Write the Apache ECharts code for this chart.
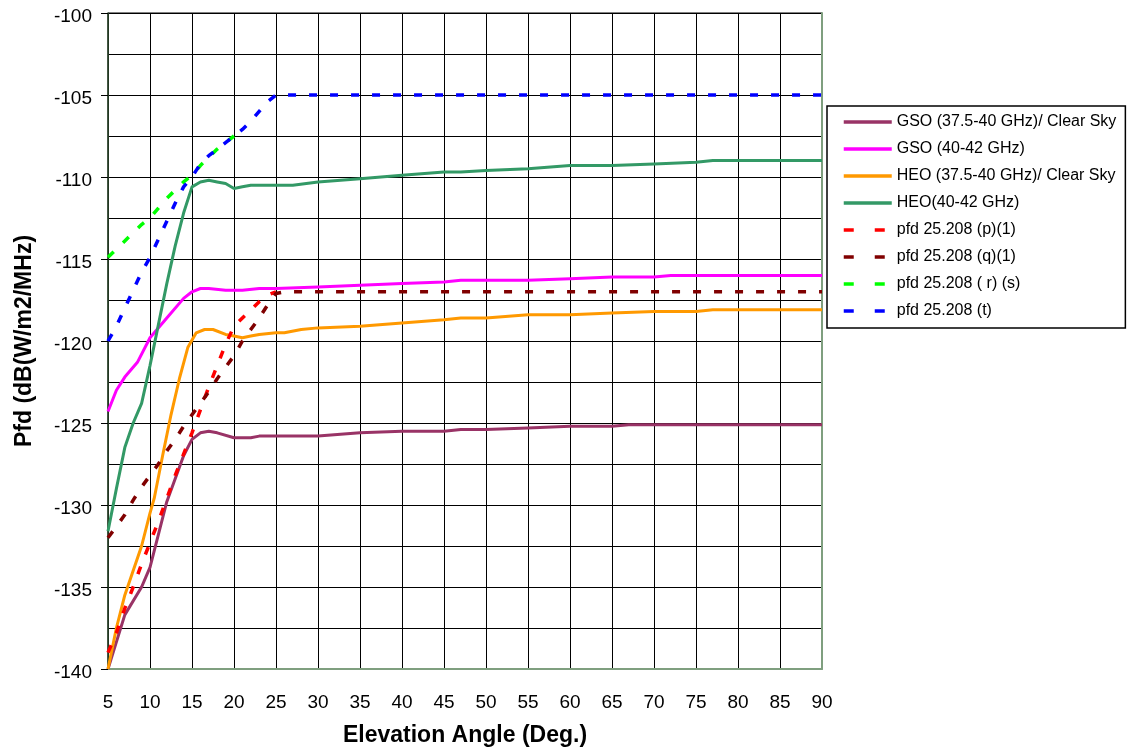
<!DOCTYPE html>
<html>
<head>
<meta charset="utf-8">
<script src="https://cdn.jsdelivr.net/npm/echarts@6/dist/echarts.min.js"></script>
<style>
html,body{margin:0;padding:0;background:#fff;}
#chart{width:1130px;height:752px;}
</style>
</head>
<body>
<div id="chart"></div>
<script>
// ---- Data (elevation angle in deg, pfd in dB(W/m2/MHz)) ----
var xTicks = [5,10,15,20,25,30,35,40,45,50,55,60,65,70,75,80,85,90];
var yTicks = [-100,-105,-110,-115,-120,-125,-130,-135,-140];

var seriesNames = [
  'GSO (37.5-40 GHz)/ Clear Sky',
  'GSO (40-42 GHz)',
  'HEO (37.5-40 GHz)/ Clear Sky',
  'HEO(40-42 GHz)',
  'pfd 25.208 (p)(1)',
  'pfd 25.208 (q)(1)',
  'pfd 25.208 ( r) (s)',
  'pfd 25.208 (t)'
];

var gso3740 = [[5,-140],[7,-136.7],[9,-135],[10,-133.8],[12,-129.8],[13,-128.4],[14,-127],[15,-126],[16,-125.6],[17,-125.5],[18,-125.6],[20,-125.9],[22,-125.9],[23,-125.8],[25,-125.8],[30,-125.8],[35,-125.6],[40,-125.5],[45,-125.5],[47,-125.4],[50,-125.4],[55,-125.3],[60,-125.2],[65,-125.2],[67,-125.1],[90,-125.1]];
var gso4042 = [[5,-124.3],[6,-123],[7,-122.2],[8.5,-121.3],[10,-119.8],[12,-118.6],[14,-117.4],[15,-117],[16,-116.8],[17,-116.8],[19,-116.9],[21,-116.9],[23,-116.8],[25,-116.8],[30,-116.7],[35,-116.6],[40,-116.5],[45,-116.4],[47,-116.3],[50,-116.3],[55,-116.3],[60,-116.2],[65,-116.1],[70,-116.1],[72,-116.0],[90,-116.0]];
var heo3740 = [[5,-140],[6,-137.5],[7,-135.5],[9,-132.5],[10,-130.5],[10.5,-129.6],[11.5,-127],[12.5,-124.5],[13.5,-122.3],[14.5,-120.4],[15.5,-119.5],[16.5,-119.3],[17.5,-119.3],[19,-119.6],[20,-119.7],[21,-119.8],[22,-119.7],[23,-119.6],[25,-119.5],[26,-119.5],[28,-119.3],[30,-119.2],[35,-119.1],[40,-118.9],[45,-118.7],[47,-118.6],[50,-118.6],[55,-118.4],[60,-118.4],[65,-118.3],[70,-118.2],[75,-118.2],[77,-118.1],[90,-118.1]];
var heo4042 = [[5,-131.6],[6,-129],[7,-126.5],[8,-125],[9,-123.8],[10,-121.5],[11,-119],[12,-116.5],[13,-114.2],[14,-112.2],[15,-110.6],[16,-110.3],[17,-110.2],[18,-110.3],[19,-110.4],[20,-110.7],[21,-110.6],[22,-110.5],[25,-110.5],[27,-110.5],[30,-110.3],[35,-110.1],[40,-109.9],[45,-109.7],[47,-109.7],[50,-109.6],[55,-109.5],[60,-109.3],[65,-109.3],[70,-109.2],[75,-109.1],[77,-109.0],[90,-109.0]];
var pfdP = [[5,-139],[6,-137.8],[7,-136.3],[8,-135],[9,-133.6],[10,-132.3],[11,-131],[12,-129.6],[13,-128.2],[14,-126.9],[15,-125.6],[16,-124.2],[17,-122.8],[18,-121.5],[19,-120.2],[20,-119.1],[21,-118.6],[22,-118.1],[23,-117.6],[24,-117.2],[25,-117]];
var pfdQ = [[5,-132],[6,-131.3],[7,-130.6],[8,-129.7],[9,-128.9],[10,-128.2],[11,-127.5],[12,-126.7],[13,-126],[14,-125.2],[15,-124.5],[16,-123.8],[17,-123.1],[18,-122.3],[19,-121.6],[20,-120.9],[21,-120.0],[22,-119.3],[23,-118.6],[24,-117.8],[25,-117.1],[26,-117],[90,-117]];
var pfdRS = [[5,-114.9],[6,-114.4],[7,-113.9],[8,-113.4],[9,-112.9],[10,-112.5],[11,-111.9],[12,-111.3],[13,-110.8],[14,-110.3],[15,-109.9],[16,-109.3],[17,-108.8],[18,-108.3],[19,-107.9],[20,-107.5]];
var pfdT = [[5,-120],[6,-119.1],[7,-118],[8,-116.9],[9,-115.8],[10,-114.9],[11,-113.8],[12,-112.7],[13,-111.6],[14,-110.6],[15,-110],[16,-109.2],[17,-108.7],[18,-108.3],[19,-107.9],[20,-107.5],[21,-107.1],[22,-106.6],[23,-106],[24,-105.4],[25,-105],[90,-105]];

var seriesData = [gso3740, gso4042, heo3740, heo4042, pfdP, pfdQ, pfdRS, pfdT];
var colors = ['#993366','#FF00FF','#FF9900','#339966','#FF0000','#800000','#00FF00','#0000FF'];
var dashed = [false,false,false,false,true,true,true,true];

var FONT = '"Liberation Sans", Arial, sans-serif';
var chart = echarts.init(document.getElementById('chart'), null, {renderer:'canvas'});

var series = seriesData.map(function(d,i){
  return {
    name: seriesNames[i],
    type: 'line',
    data: d,
    symbol: 'none',
    showSymbol: false,
    smooth: false,
    animation: false,
    z: 2 + i,
    lineStyle: {
      color: colors[i],
      width: dashed[i] ? 3.5 : 3,
      type: dashed[i] ? [8,13] : 'solid',
      cap: 'butt'
    },
    itemStyle: {color: colors[i]}
  };
});

var legendData = seriesNames.map(function(n,i){
  var item = {name: n};
  if (dashed[i]) item.lineStyle = {type: [10,21], width: 3.5};
  return item;
});

var option = {
  backgroundColor: '#fff',
  animation: false,
  textStyle: {fontFamily: FONT},
  grid: {
    left: 108, top: 13, right: 308, bottom: 82,
    show: true, borderColor: '#000', borderWidth: 1, backgroundColor: 'transparent'
  },
  legend: {
    orient: 'vertical',
    left: 827, top: 106,
    padding: [8, 9, 9, 15],
    itemWidth: 48, itemHeight: 14, itemGap: 11,
    borderColor: '#000', borderWidth: 1.5,
    backgroundColor: '#fff',
    itemStyle: {opacity: 0, borderWidth: 0},
    lineStyle: {width: 3.5},
    textStyle: {fontFamily: FONT, fontSize: 16, color: '#000'},
    data: legendData
  },
  xAxis: {
    type: 'value', min: 5, max: 90, interval: 5,
    name: 'Elevation Angle (Deg.)',
    nameLocation: 'middle', nameGap: 55,
    nameTextStyle: {fontFamily: FONT, fontSize: 23, fontWeight: 'bold', color: '#000'},
    axisLine: {show: true, onZero: false, lineStyle: {color: '#7f9f7f', width: 2}},
    axisTick: {show: false},
    axisLabel: {fontFamily: FONT, fontSize: 19, color: '#000', margin: 24,
      formatter: function(v){ return xTicks.indexOf(v) >= 0 ? String(v) : ''; }},
    splitLine: {show: true, lineStyle: {color: '#000', width: 1}}
  },
  yAxis: [{
    type: 'value', min: -140, max: -100, interval: 5,
    name: 'Pfd (dB(W/m2/MHz)',
    nameLocation: 'middle', nameGap: 72, nameRotate: 90,
    nameTextStyle: {fontFamily: FONT, fontSize: 23, fontWeight: 'bold', color: '#000'},
    axisLine: {show: true, onZero: false, lineStyle: {color: '#2f4a2f', width: 1.5}},
    axisTick: {show: true, inside: false, length: 7, lineStyle: {color: '#000'}},
    axisLabel: {fontFamily: FONT, fontSize: 19, color: '#000', margin: 16,
      formatter: function(v){ return yTicks.indexOf(v) >= 0 ? '{a|' + v + '}' : ''; },
      rich: {a: {fontFamily: FONT, fontSize: 19, color: '#000', padding: [7,0,0,0]}}},
    splitLine: {show: true, lineStyle: {color: '#000', width: 1}},
    minorTick: {show: false, splitNumber: 2},
    minorSplitLine: {show: true, lineStyle: {color: '#000', width: 1}}
  }, {
    type: 'value', min: -140, max: -100, interval: 5, position: 'right',
    axisLine: {show: true, onZero: false, lineStyle: {color: '#7f9f7f', width: 2}},
    axisTick: {show: false}, axisLabel: {show: false}, splitLine: {show: false}
  }],
  series: series
};
chart.setOption(option);
</script>
</body>
</html>
